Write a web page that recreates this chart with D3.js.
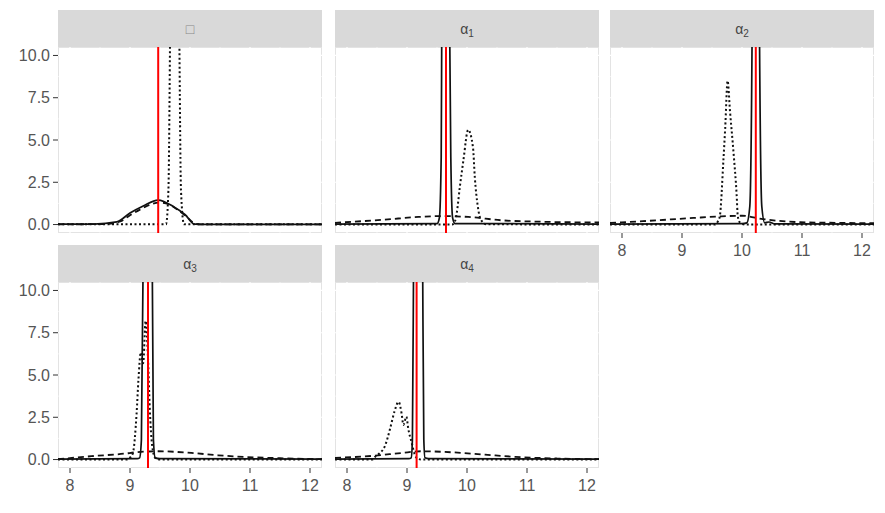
<!DOCTYPE html>
<html>
<head>
<meta charset="utf-8">
<script src="https://cdn.jsdelivr.net/npm/d3@7.9.0/dist/d3.min.js"></script>
<style>
  body { margin: 0; background: #fff; }
  text { font-family: "Liberation Sans", Arial, sans-serif; }
</style>
</head>
<body>
<svg id="chart" width="885" height="513"></svg>
<script>
// facet labels and reference (red) lines
const facetNames = ["□", "α1", "α2", "α3", "α4"];
const redLines = [9.47, 9.65, 10.23, 9.30, 9.16];

// axis ticks
const xTicks = [8, 9, 10, 11, 12];
const yTicks = [0, 2.5, 5, 7.5, 10];

// solid curves (x, density); spikes run past the top
const solid0 = [[7.8,0.02],[8.4,0.03],[8.78,0.16],[9.0,0.68],[9.22,1.1],[9.47,1.45],[9.72,1.07],[9.92,0.58],[10.08,0.02],[10.3,0.01],[12.2,0.01]];
const solid1 = [[7.8,0.03],[9.5,0.05],[9.54,0.4],[9.57,4],[9.58,12],[9.6,25],[9.69,25],[9.71,12],[9.73,4],[9.76,0.4],[9.8,0.06],[12.2,0.03]];
const solid2 = [[7.8,0.03],[10.0,0.05],[10.08,0.1],[10.13,1.07],[10.17,12],[10.19,25],[10.27,25],[10.29,12],[10.33,1.07],[10.38,0.1],[10.45,0.15],[10.55,0.04],[12.2,0.03]];
const solid3 = [[7.8,0.03],[9.12,0.05],[9.16,0.1],[9.19,1.17],[9.22,12],[9.24,25],[9.36,25],[9.37,12],[9.39,1.2],[9.42,0.1],[9.5,0.05],[12.2,0.03]];
const solid4 = [[7.8,0.03],[9.03,0.05],[9.07,0.1],[9.09,1.2],[9.11,12],[9.13,25],[9.24,25],[9.26,12],[9.28,1.2],[9.3,0.1],[9.36,0.05],[12.2,0.03]];

// dashed curves
const dashed0 = [[7.8,0.01],[8.6,0.03],[8.85,0.2],[9.0,0.55],[9.2,0.95],[9.35,1.2],[9.5,1.3],[9.65,1.2],[9.8,0.85],[9.95,0.45],[10.05,0.12],[10.15,0.01],[12.2,0.01]];
const dashed1 = [[7.8,0.1],[8.63,0.29],[9.19,0.45],[9.6,0.5],[10.02,0.45],[10.58,0.25],[11.2,0.17],[12.2,0.12]];
const dashed2 = [[7.8,0.1],[8.35,0.2],[9.19,0.39],[9.63,0.48],[10.0,0.52],[10.35,0.32],[10.97,0.14],[12.2,0.08]];
const dashed3 = [[7.8,0.02],[8.36,0.2],[8.91,0.35],[9.1,0.43],[9.47,0.49],[10.02,0.39],[10.47,0.25],[10.72,0.19],[11.5,0.08],[12.2,0.02]];
const dashed4 = [[7.8,0.1],[8.47,0.23],[8.91,0.39],[9.24,0.49],[9.74,0.43],[10.3,0.29],[10.8,0.16],[11.5,0.06],[12.2,0.02]];

// dotted curves
const dotted0 = [[7.8,0.02],[9.6,0.02],[9.64,2],[9.67,12],[9.7,25],[9.79,25],[9.82,12],[9.85,2],[9.9,0.02],[12.2,0.02]];
const dotted1 = [[7.8,0],[9.75,0],[9.8,0.2],[9.83,0.7],[9.88,2.2],[9.94,3.8],[10.02,5.6],[10.1,4.55],[10.13,2.8],[10.18,1.07],[10.23,0.3],[10.32,0.02],[12.2,0]];
const dotted2 = [[7.8,0],[9.55,0],[9.6,0.2],[9.63,0.48],[9.69,3.8],[9.72,5.7],[9.76,8.5],[9.8,6.7],[9.86,4.2],[9.91,1.8],[9.93,0.48],[9.97,0.1],[10.05,0],[12.2,0]];
const dotted3 = [[7.8,0],[8.95,0],[9.02,0.2],[9.05,0.4],[9.11,2.73],[9.14,4.68],[9.18,6.33],[9.22,5.7],[9.26,8.2],[9.3,6],[9.33,3],[9.37,0.8],[9.42,0.1],[9.5,0],[12.2,0]];
const dotted4 = [[7.8,0],[8.42,0],[8.47,0.16],[8.55,0.39],[8.63,0.78],[8.72,1.85],[8.79,2.83],[8.86,3.41],[8.91,2.73],[8.94,2.05],[8.99,2.53],[9.02,1.85],[9.08,0.97],[9.13,0.29],[9.18,0.05],[9.25,0],[12.2,0]];

const solids = [solid0, solid1, solid2, solid3, solid4];
const dashes = [dashed0, dashed1, dashed2, dashed3, dashed4];
const dots = [dotted0, dotted1, dotted2, dotted3, dotted4];

// layout
const colLeft = [58, 335, 610];
const panelW = 264;
const stripTop = [10, 245];
const stripH = 37;
const panelH = 186;

const svg = d3.select("#chart");

facetNames.forEach((name, i) => {
  const col = i % 3, row = Math.floor(i / 3);
  const left = colLeft[col];
  const top = stripTop[row] + stripH;
  const x = d3.scaleLinear().domain([7.8, 12.2]).range([left, left + panelW]);
  const y = d3.scaleLinear().domain([-0.5, 10.5]).range([top + panelH, top]);

  const g = svg.append("g");

  // strip
  g.append("rect")
    .attr("x", left).attr("y", stripTop[row])
    .attr("width", panelW).attr("height", stripH)
    .attr("fill", "#d9d9d9");
  const label = g.append("text")
    .attr("x", left + panelW / 2).attr("y", stripTop[row] + stripH / 2 + 5)
    .attr("text-anchor", "middle")
    .attr("font-size", 14)
    .attr("fill", i === 0 ? "#888" : "#444");
  if (name.length > 1) {
    label.append("tspan").text(name[0]);
    label.append("tspan").attr("font-size", 10).attr("dy", 3).text(name.slice(1));
  } else {
    label.text(name);
  }

  // panel background + faint border broken by white grid
  g.append("rect")
    .attr("x", left + 0.5).attr("y", top + 0.5)
    .attr("width", panelW - 1).attr("height", panelH - 1)
    .attr("fill", "#fff").attr("stroke", "#e3e3e3");

  const xMinor = d3.range(7.5, 12.6, 0.5).filter(v => v > 7.8 && v < 12.2);
  const yMinor = d3.range(-1.25, 11, 1.25).filter(v => v > -0.5 && v < 10.5);
  g.selectAll(".gx").data(xMinor).join("line")
    .attr("x1", d => x(d)).attr("x2", d => x(d))
    .attr("y1", top).attr("y2", top + panelH)
    .attr("stroke", "#fff").attr("stroke-width", d => Number.isInteger(d) ? 1.2 : 0.6);
  g.selectAll(".gy").data(yMinor).join("line")
    .attr("x1", left).attr("x2", left + panelW)
    .attr("y1", d => y(d)).attr("y2", d => y(d))
    .attr("stroke", "#fff").attr("stroke-width", d => yTicks.includes(d) ? 1.2 : 0.6);

  // clip
  const clipId = "clip" + i;
  svg.append("clipPath").attr("id", clipId)
    .append("rect").attr("x", left).attr("y", top).attr("width", panelW).attr("height", panelH);
  const plot = g.append("g").attr("clip-path", `url(#${clipId})`);

  const line = d3.line().x(d => x(d[0])).y(d => y(d[1])).curve(d3.curveMonotoneX);

  plot.append("path").attr("d", line(dashes[i]))
    .attr("fill", "none").attr("stroke", "#111").attr("stroke-width", 1.8)
    .attr("stroke-dasharray", "6,4");
  plot.append("path").attr("d", line(dots[i]))
    .attr("fill", "none").attr("stroke", "#111").attr("stroke-width", 2)
    .attr("stroke-dasharray", "2,2.5");
  plot.append("path").attr("d", line(solids[i]))
    .attr("fill", "none").attr("stroke", "#111").attr("stroke-width", 1.7);
  plot.append("line")
    .attr("x1", x(redLines[i])).attr("x2", x(redLines[i]))
    .attr("y1", top).attr("y2", top + panelH)
    .attr("stroke", "#ff0000").attr("stroke-width", 2);

  // y axis on first column
  if (col === 0) {
    const ya = g.append("g");
    yTicks.forEach(t => {
      ya.append("line").attr("x1", left - 5).attr("x2", left)
        .attr("y1", y(t)).attr("y2", y(t))
        .attr("stroke", "#333").attr("stroke-width", 1);
      ya.append("text").attr("x", left - 8).attr("y", y(t) + 5.5)
        .attr("text-anchor", "end").attr("font-size", 16).attr("fill", "#555")
        .text(d3.format(".1f")(t));
    });
  }

  // x axis where no panel lies below
  if (row === 1 || col === 2) {
    const xa = g.append("g");
    xTicks.forEach(t => {
      xa.append("line").attr("x1", x(t)).attr("x2", x(t))
        .attr("y1", top + panelH).attr("y2", top + panelH + 5)
        .attr("stroke", "#333").attr("stroke-width", 1);
      xa.append("text").attr("x", x(t)).attr("y", top + panelH + 23)
        .attr("text-anchor", "middle").attr("font-size", 16).attr("fill", "#555")
        .text(t);
    });
  }
});
</script>
</body>
</html>
